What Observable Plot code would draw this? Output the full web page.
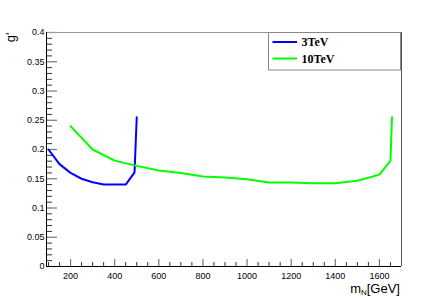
<!DOCTYPE html>
<html>
<head>
<meta charset="utf-8">
<script src="https://cdn.jsdelivr.net/npm/d3@7"></script>
<script src="https://cdn.jsdelivr.net/npm/@observablehq/plot@0.6"></script>
<style>
  html, body { margin: 0; padding: 0; background: #fff; }
  #chart svg { display: block; }
</style>
</head>
<body>
<div id="chart"></div>
<script>
// ---- data ----
const series3TeV_x = [100, 150, 200, 250, 300, 350, 450, 490, 500];
const series3TeV_y = [0.200, 0.175, 0.160, 0.150, 0.144, 0.140, 0.140, 0.161, 0.255];

const series10TeV_x = [200, 300, 400, 500, 600, 700, 800, 900, 1000, 1100, 1200, 1300, 1400, 1500, 1600, 1650, 1657];
const series10TeV_y = [0.240, 0.200, 0.181, 0.172, 0.164, 0.160, 0.154, 0.152, 0.149, 0.1435, 0.1435, 0.1425, 0.1425, 0.1465, 0.157, 0.181, 0.255];

const seriesNames = ["3TeV", "10TeV"];
const seriesColors = ["#0000ff", "#00ff00"];

const xDomain = [91, 1700];
const yDomain = [0, 0.4];
const xMajorTicks = [200, 400, 600, 800, 1000, 1200, 1400, 1600];
const xTickLabels = ["200", "400", "600", "800", "1000", "1200", "1400", "1600"];
const xMinorTicks = [100,150,250,300,350,450,500,550,650,700,750,850,900,950,1050,1100,1150,1250,1300,1350,1450,1500,1550,1650,1700];
const yMajorTicks = [0, 0.05, 0.1, 0.15, 0.2, 0.25, 0.3, 0.35, 0.4];
const yTickLabels = ["0", "0.05", "0.1", "0.15", "0.2", "0.25", "0.3", "0.35", "0.4"];
const yMinorTicks = [];
for (let i = 1; i < 40; i++) if (i % 5 !== 0) yMinorTicks.push(+(i / 100).toFixed(2));

const yTitle = "g'";
const xTitleMain = "m";
const xTitleSub = "N";
const xTitleUnit = "[GeV]";

// ---- build tables ----
const data3 = series3TeV_x.map((x, i) => ({x, y: series3TeV_y[i]}));
const data10 = series10TeV_x.map((x, i) => ({x, y: series10TeV_y[i]}));

const W = 448, H = 299;
const mL = 46, mR = 47, mT = 32, mB = 33;
const innerW = W - mL - mR, innerH = H - mT - mB;

const plot = Plot.plot({
  width: W,
  height: H,
  marginLeft: mL,
  marginRight: mR,
  marginTop: mT,
  marginBottom: mB,
  style: {fontFamily: "Liberation Sans, Arial, sans-serif", fontSize: "9px", background: "#fff", color: "#000"},
  x: {domain: xDomain, label: null},
  y: {domain: yDomain, label: null},
  marks: [
    // minor & major ticks, drawn inward
    Plot.tickY(yMinorTicks, {y: d => d, insetRight: innerW - 6, stroke: "#333", strokeWidth: 1}),
    Plot.tickY(yMajorTicks, {y: d => d, insetRight: innerW - 11, stroke: "#777", strokeWidth: 1.2}),
    Plot.tickX(xMinorTicks, {x: d => d, insetTop: innerH - 4, stroke: "#333", strokeWidth: 1}),
    Plot.tickX(xMajorTicks, {x: d => d, insetTop: innerH - 7, stroke: "#777", strokeWidth: 1.2}),
    // tick labels
    Plot.axisY(yMajorTicks, {label: null, tickSize: 0, tickPadding: 2, tickFormat: d => yTickLabels[yMajorTicks.indexOf(d)], fontSize: 9}),
    Plot.axisX(xMajorTicks, {label: null, tickSize: 0, tickPadding: 6, tickFormat: d => xTickLabels[xMajorTicks.indexOf(d)], fontSize: 9}),
    // frame
    Plot.ruleY([yDomain[1]], {stroke: "#999", strokeWidth: 1.2}),
    Plot.ruleX([xDomain[1]], {stroke: "#555", strokeWidth: 1}),
    Plot.ruleX([xDomain[0]], {stroke: "#000", strokeWidth: 1}),
    Plot.ruleY([yDomain[0]], {stroke: "#000", strokeWidth: 1}),
    // data
    Plot.line(data3, {x: "x", y: "y", stroke: seriesColors[0], strokeWidth: 2}),
    Plot.line(data10, {x: "x", y: "y", stroke: seriesColors[1], strokeWidth: 2}),
    // y title
    Plot.text([yTitle], {text: d => d, frameAnchor: "top-left", rotate: -90, textAnchor: "end", lineAnchor: "middle", dx: -36, dy: 0, fontSize: 13, fill: "#000"})
  ]
});

const svg = d3.select(plot);

// x title with subscript
const xt = svg.append("text")
  .attr("x", 400).attr("y", 293)
  .attr("text-anchor", "end")
  .attr("font-family", "Liberation Sans, Arial, sans-serif")
  .attr("font-size", 13)
  .attr("fill", "#000");
xt.append("tspan").text(xTitleMain);
xt.append("tspan").attr("font-size", 8).attr("dy", 2).text(xTitleSub);
xt.append("tspan").attr("dy", -2).text(xTitleUnit);

// legend
const lg = svg.append("g");
lg.append("rect")
  .attr("x", 268.5).attr("y", 32.5).attr("width", 132).attr("height", 37.5)
  .attr("fill", "#fff").attr("stroke", "#888").attr("stroke-width", 1);
seriesNames.forEach((name, i) => {
  const cy = 42 + i * 16.5;
  lg.append("line")
    .attr("x1", 272.5).attr("x2", 297).attr("y1", cy).attr("y2", cy)
    .attr("stroke", seriesColors[i]).attr("stroke-width", 2);
  lg.append("text")
    .attr("x", 301.5).attr("y", cy + 4)
    .attr("text-anchor", "start")
    .attr("font-family", "Liberation Serif, Times New Roman, serif")
    .attr("font-weight", "bold")
    .attr("font-size", 12)
    .attr("fill", "#000")
    .text(name);
});

document.getElementById("chart").appendChild(plot);
</script>
</body>
</html>
